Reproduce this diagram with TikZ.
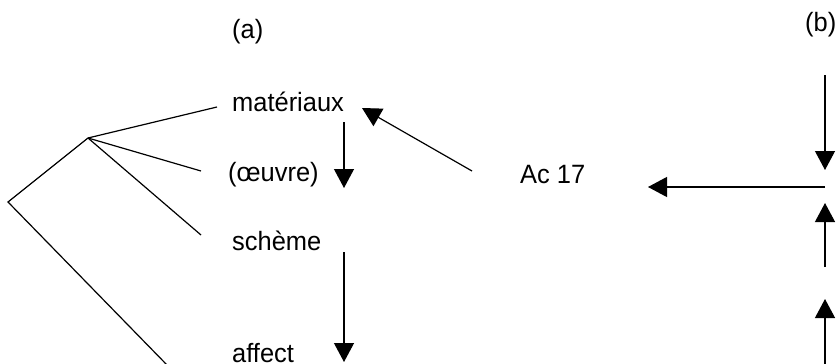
\documentclass[tikz,border=0pt]{standalone}
\usepackage{fontspec}
\setmainfont{Liberation Sans}[FakeStretch=0.96]
\usetikzlibrary{arrows.meta}
\tikzset{
  lbl/.style={anchor=base west, inner sep=0pt, font=\fontsize{26.5}{30}\selectfont},
  ln/.style={line width=1.2pt},
  arr/.style={line width=1.2pt, -{Triangle[length=19pt, width=20pt]}}
}
\begin{document}
\begin{tikzpicture}[x=1pt, y=-1pt]
\useasboundingbox (0,0) rectangle (838,364);

% labels
\node[lbl] (la) at (232,38) {(a)};
\node[lbl] (lb) at (805,31) {(b)};
\node[lbl] (mat) at (232,111) {matériaux};
\node[lbl] (oeu) at (228,181) {(œuvre)};
\node[lbl] (sch) at (232,250) {schème};
\node[lbl] (aff) at (232,362) {affect};
\node[lbl] (ac) at (520,183) {Ac 17};

% tree of branches
\coordinate (root) at (88,138);
\coordinate (vtx) at (8,202);
\coordinate (bm) at (217,107);
\coordinate (bo) at (201,171);
\coordinate (bs) at (201,235);
\coordinate (ba) at (168,366);
\draw[ln] (bm) -- (root) -- (vtx) -- (ba);
\draw[ln] (root) -- (bo);
\draw[ln] (root) -- (bs);

% arrows of (a)
\coordinate (m1) at (344,122);
\coordinate (m2) at (344,188);
\draw[arr] (m1) -- (m2);
\coordinate (s1) at (344,252);
\coordinate (s2) at (344,362);
\draw[arr] (s1) -- (s2);
\coordinate (c1) at (472,171);
\coordinate (c2) at (362,108);
\draw[arr] (c1) -- (c2);

% arrows of (b)
\coordinate (t1) at (825,75);
\coordinate (t2) at (825,170);
\draw[arr] (t1) -- (t2);
\coordinate (h1) at (825,187);
\coordinate (h2) at (648,187);
\draw[arr] (h1) -- (h2);
\coordinate (u1) at (825,267);
\coordinate (u2) at (825,203);
\draw[arr] (u1) -- (u2);
\coordinate (w1) at (825,366);
\coordinate (w2) at (825,299);
\draw[arr] (w1) -- (w2);
\end{tikzpicture}
\end{document}
